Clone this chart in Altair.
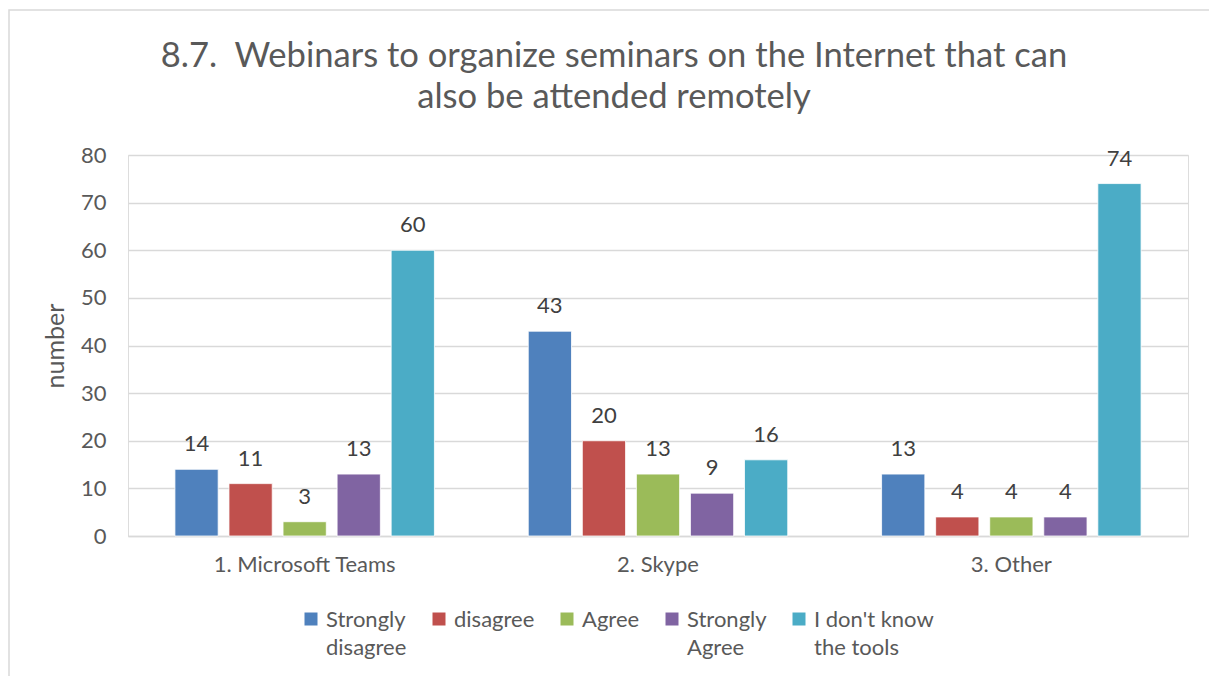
import altair as alt
import pandas as pd

tools = ["1. Microsoft Teams", "2. Skype", "3. Other"]
answers = ["Strongly disagree", "disagree", "Agree", "Strongly Agree", "I don't know the tools"]
colors = ["#4f81bd", "#c0504d", "#9bbb59", "#8064a2", "#4bacc6"]
teams = [14, 11, 3, 13, 60]
skype = [43, 20, 13, 9, 16]
other = [13, 4, 4, 4, 74]

rows = []
for t, vals in zip(tools, [teams, skype, other]):
    for a, v in zip(answers, vals):
        rows.append({"tool": t, "answer": a, "value": v})
df = pd.DataFrame(rows)

FONT = "Lato"

label_expr = ("datum.label == 'Strongly disagree' ? ['Strongly', 'disagree'] : "
              "datum.label == 'Strongly Agree' ? ['Strongly', 'Agree'] : "
              "datum.label == \"I don't know the tools\" ? [\"I don't know\", 'the tools'] : [datum.label, ' ']")

xscale = alt.Scale(paddingInner=0.235, paddingOuter=0.1175)
x = alt.X("tool:N", sort=tools, title=None, scale=xscale,
          axis=alt.Axis(labelAngle=0, labelFontSize=22, labelColor="#595959", labelFont=FONT,
                        ticks=False, domainColor="#d9d9d9", domainWidth=1.5, labelPadding=18,
                        labelLimit=400))
xo = alt.XOffset("answer:N", sort=answers,
                 scale=alt.Scale(paddingInner=0.2, paddingOuter=0.1))
y = alt.Y("value:Q", title="number",
          scale=alt.Scale(domain=[0, 80]),
          axis=alt.Axis(values=list(range(0, 81, 10)), labelFontSize=22, labelColor="#595959",
                        labelFont=FONT, ticks=False, domain=False, labelPadding=22,
                        gridColor="#d9d9d9", gridWidth=1.5,
                        titleFontSize=25, titleFont=FONT, titleColor="#595959",
                        titleFontWeight="normal", titlePadding=12))

# square symbol shifted down so the first label line is centred on it
symbol_path = "M-1,0.385H1V2.385H-1Z"

bars = alt.Chart(df).mark_bar(stroke="white", strokeWidth=0.8).encode(
    x=x, xOffset=xo, y=y,
    color=alt.Color("answer:N", sort=answers,
                    scale=alt.Scale(domain=answers, range=colors),
                    legend=alt.Legend(title=None, orient="none", direction="horizontal",
                                      legendX=172, legendY=444,
                                      labelExpr=label_expr, labelFontSize=22, labelFont=FONT,
                                      labelColor="#595959", symbolType=symbol_path, symbolSize=169,
                                      symbolStrokeWidth=0, labelBaseline="top", labelOffset=4,
                                      columnPadding=21, labelLimit=250))
)

text = alt.Chart(df).mark_text(baseline="bottom", dy=-13, fontSize=22, font=FONT, color="#404040").encode(
    x=alt.X("tool:N", sort=tools, scale=xscale),
    xOffset=xo,
    y=alt.Y("value:Q"),
    text="value:Q",
)

frame = alt.Chart(pd.DataFrame({"f": [0]})).mark_rect(
    fill=None, stroke="#d9d9d9", strokeWidth=1.5
).encode(x=alt.value(-119), x2=alt.value(1200), y=alt.value(-145), y2=alt.value(700))

chart = alt.layer(frame, bars, text).properties(
    width=1060, height=381,
    title=alt.TitleParams(
        text=["8.7.\u00a0 Webinars to organize seminars on the Internet that can", "also be attended remotely"],
        fontSize=34.6, font=FONT, color="#595959", fontWeight="normal",
        anchor="middle", dx=-44, dy=135, offset=29, lineHeight=41),
    padding={"left": 120, "top": 147, "right": 21, "bottom": 140},
    autosize=alt.AutoSizeParams(type="none"),
    background="white",
).configure_view(stroke=None).configure(
    style={"guide-label": {"lineHeight": 28}}
)

chart.save("out.html", embed_options={"renderer": "svg", "actions": False})
